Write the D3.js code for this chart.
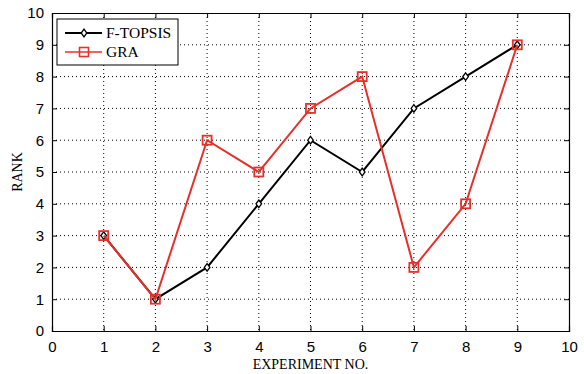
<!DOCTYPE html>
<html>
<head>
<meta charset="utf-8">
<script src="https://cdn.jsdelivr.net/npm/d3@7"></script>
<style>
  body { margin: 0; background: #fff; }
  .tick text { font-family: Arial, "Liberation Sans", sans-serif; font-size: 15px; fill: #000; }
  .lbl { font-family: "Liberation Serif", "Times New Roman", serif; font-size: 14px; fill: #000; }
  .leg { font-family: "Liberation Serif", "Times New Roman", serif; font-size: 15.5px; fill: #000; }
</style>
</head>
<body>
<div id="container"></div>
<script>
const experiments = [1, 2, 3, 4, 5, 6, 7, 8, 9];
const topsisRank = [3, 1, 2, 4, 6, 5, 7, 8, 9];
const graRank = [3, 1, 6, 5, 7, 8, 2, 4, 9];
const xTicks = d3.range(0, 11);
const yTicks = d3.range(0, 11);

const width = 584, height = 374;
const margin = { left: 52, right: 15, top: 13, bottom: 43 };
const iw = width - margin.left - margin.right;
const ih = height - margin.top - margin.bottom;

const svg = d3.select("#container").append("svg")
  .attr("width", width).attr("height", height);
const g = svg.append("g").attr("transform", `translate(${margin.left} ${margin.top})`);

const x = d3.scaleLinear().domain([0, 10]).range([0, iw]);
const y = d3.scaleLinear().domain([0, 10]).range([ih, 0]);

// grid
g.append("g").selectAll("line").data(xTicks.slice(1, -1)).enter().append("line")
  .attr("x1", d => x(d)).attr("x2", d => x(d)).attr("y1", 0).attr("y2", ih)
  .attr("stroke", "#000").attr("stroke-width", 1).attr("stroke-dasharray", "1,3");
g.append("g").selectAll("line").data(yTicks.slice(1, -1)).enter().append("line")
  .attr("y1", d => y(d)).attr("y2", d => y(d)).attr("x1", 0).attr("x2", iw)
  .attr("stroke", "#000").attr("stroke-width", 1).attr("stroke-dasharray", "1,3");

// axes, ticks pointing inward
const xa = g.append("g").attr("transform", `translate(0,${ih})`)
  .call(d3.axisBottom(x).tickValues(xTicks).tickSize(-5).tickPadding(10).tickFormat(d3.format("d")));
const xt = g.append("g")
  .call(d3.axisTop(x).tickValues(xTicks).tickSize(-5).tickFormat(""));
const ya = g.append("g")
  .call(d3.axisLeft(y).tickValues(yTicks).tickSize(-5).tickPadding(8).tickFormat(d3.format("d")));
const yr = g.append("g").attr("transform", `translate(${iw},0)`)
  .call(d3.axisRight(y).tickValues(yTicks).tickSize(-5).tickFormat(""));
[xa, xt, ya, yr].forEach(a => {
  a.select(".domain").attr("stroke", "#000").attr("stroke-width", 1.2);
  a.selectAll(".tick line").attr("stroke", "#000");
});

// lines
const diamond = "M0,-3.8L2.8,0L0,3.8L-2.8,0Z";
const line = d3.line().x(d => x(d[0])).y(d => y(d[1]));
const topsisData = experiments.map((e, i) => [e, topsisRank[i]]);
const graData = experiments.map((e, i) => [e, graRank[i]]);

g.append("path").datum(topsisData).attr("d", line)
  .attr("fill", "none").attr("stroke", "#000").attr("stroke-width", 2);
g.append("g").selectAll("path").data(topsisData).enter().append("path")
  .attr("transform", d => `translate(${x(d[0])},${y(d[1])})`)
  .attr("d", diamond)
  .attr("fill", "#fff").attr("stroke", "#000").attr("stroke-width", 1.3);

g.append("path").datum(graData).attr("d", line)
  .attr("fill", "none").attr("stroke", "#e8302a").attr("stroke-width", 2);
g.append("g").selectAll("rect").data(graData).enter().append("rect")
  .attr("x", d => x(d[0]) - 4.5).attr("y", d => y(d[1]) - 4.5)
  .attr("width", 9).attr("height", 9)
  .attr("fill", "none").attr("stroke", "#e8302a").attr("stroke-width", 1.8);

// legend
const lg = g.append("g").attr("transform", "translate(5,6)");
lg.append("rect").attr("width", 121).attr("height", 46)
  .attr("fill", "#fff").attr("stroke", "#000").attr("stroke-width", 1);
lg.append("line").attr("x1", 8).attr("x2", 45).attr("y1", 14).attr("y2", 14)
  .attr("stroke", "#000").attr("stroke-width", 2);
lg.append("path").attr("transform", "translate(27,14)").attr("d", diamond)
  .attr("fill", "#fff").attr("stroke", "#000").attr("stroke-width", 1.3);
lg.append("text").attr("class", "leg").attr("x", 49).attr("y", 19).text("F-TOPSIS");
lg.append("line").attr("x1", 8).attr("x2", 45).attr("y1", 33).attr("y2", 33)
  .attr("stroke", "#e8302a").attr("stroke-width", 1.6);
lg.append("rect").attr("x", 22.5).attr("y", 28.5).attr("width", 9).attr("height", 9)
  .attr("fill", "none").attr("stroke", "#e8302a").attr("stroke-width", 1.6);
lg.append("text").attr("class", "leg").attr("x", 49).attr("y", 38).text("GRA");

// axis labels
svg.append("text").attr("class", "lbl").attr("text-anchor", "middle")
  .attr("x", margin.left + iw / 2).attr("y", 369).text("EXPERIMENT NO.");
svg.append("text").attr("class", "lbl").attr("text-anchor", "middle")
  .attr("transform", `translate(22,${margin.top + ih / 2}) rotate(-90)`).text("RANK");
</script>
</body>
</html>
